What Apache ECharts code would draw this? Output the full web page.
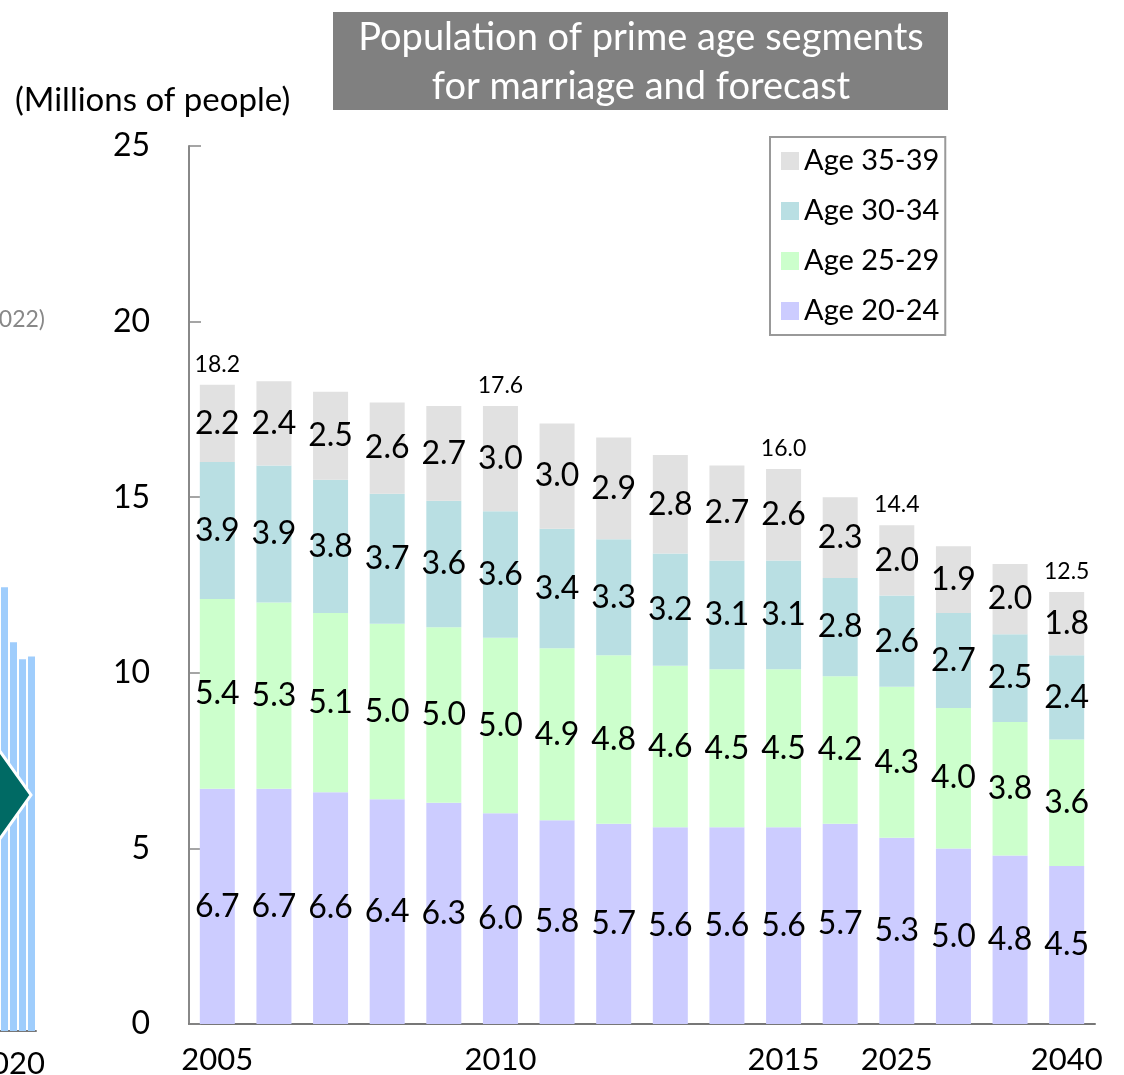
<!DOCTYPE html>
<html>
<head>
<meta charset="utf-8">
<script src="https://cdn.jsdelivr.net/npm/echarts@6/dist/echarts.min.js"></script>
<style>
html,body{margin:0;padding:0;background:#fff;}
#chart{width:1124px;height:1075px;}
</style>
</head>
<body>
<div id="chart"></div>
<script>
// ---- data ----
const categories = ['2005','2006','2007','2008','2009','2010','2011','2012','2013','2014','2015','2020','2025','2030','2035','2040'];
const shownYears = ['2005','2010','2015','2025','2040'];
const age20_24 = [6.7,6.7,6.6,6.4,6.3,6.0,5.8,5.7,5.6,5.6,5.6,5.7,5.3,5.0,4.8,4.5];
const age25_29 = [5.4,5.3,5.1,5.0,5.0,5.0,4.9,4.8,4.6,4.5,4.5,4.2,4.3,4.0,3.8,3.6];
const age30_34 = [3.9,3.9,3.8,3.7,3.6,3.6,3.4,3.3,3.2,3.1,3.1,2.8,2.6,2.7,2.5,2.4];
const age35_39 = [2.2,2.4,2.5,2.6,2.7,3.0,3.0,2.9,2.8,2.7,2.6,2.3,2.0,1.9,2.0,1.8];
const totalLabels = ['18.2','','','','','17.6','','','','','16.0','','14.4','','','12.5'];
const seriesNames = ['Age 20-24','Age 25-29','Age 30-34','Age 35-39'];
const legendOrder = ['Age 35-39','Age 30-34','Age 25-29','Age 20-24'];
const yTicks = {min:0, max:25, interval:5};
// cropped fragment of the neighbouring chart (left edge)
const fragmentCats = ['a','b','c','d'];
const fragmentValues = [49.3,43.2,41.3,41.6];

const colors = {'Age 20-24':'#ccccff','Age 25-29':'#ccffcc','Age 30-34':'#b9dfe3','Age 35-39':'#e1e1e1'};
const FONT = 'Lato';
const chart = echarts.init(document.getElementById('chart'), null, {renderer:'canvas'});

const values = [age20_24, age25_29, age30_34, age35_39];
const stackSeries = seriesNames.map((n,i)=>({
  name:n, type:'bar', stack:'pop', stackStrategy:'all', xAxisIndex:0, yAxisIndex:0,
  barWidth:35, data:values[i],
  itemStyle:{color:colors[n]},
  label:{show:true, position:'inside', color:'#000', fontFamily:FONT, fontSize:32,
    formatter:p=>p.value.toFixed(1)},
  emphasis:{disabled:true}
}));

const option = {
  animation:false,
  backgroundColor:'#fff',
  textStyle:{fontFamily:FONT},
  grid:[
    {left:189, right:29, top:146, bottom:50, containLabel:false},
    {left:-8, width:44, top:131, bottom:44, containLabel:false}
  ],
  legend:{
    data:legendOrder, orient:'vertical', left:770, top:137,
    padding:[9,6,9,11], itemGap:20, itemWidth:18, itemHeight:18, icon:'rect',
    borderColor:'#999', borderWidth:2, backgroundColor:'#fff',
    textStyle:{fontFamily:FONT, fontSize:29, lineHeight:30, color:'#000'},
    selectedMode:false
  },
  xAxis:[
    {type:'category', gridIndex:0, data:categories,
     axisLine:{show:true, lineStyle:{color:'#777', width:2}},
     axisTick:{show:false},
     axisLabel:{interval:(i,v)=>shownYears.includes(v), color:'#000', fontFamily:FONT, fontSize:31, margin:20,
       formatter:v=> v==='2025' ? '{up|'+v+'}' : v,
       rich:{up:{fontFamily:FONT, fontSize:31, color:'#000', padding:[0,0,6,0]}}}},
    {type:'category', gridIndex:1, data:fragmentCats,
     axisLine:{show:true, lineStyle:{color:'#777', width:2}},
     axisTick:{show:false}, axisLabel:{show:false}}
  ],
  yAxis:[
    {type:'value', gridIndex:0, min:yTicks.min, max:yTicks.max, interval:yTicks.interval,
     axisLine:{show:true, lineStyle:{color:'#888', width:2}},
     axisTick:{show:true, inside:true, length:12, lineStyle:{color:'#888', width:1.5}},
     splitLine:{show:false},
     axisLabel:{color:'#000', fontFamily:FONT, fontSize:32, margin:39}},
    {type:'value', gridIndex:1, min:0, max:100, show:false, splitLine:{show:false}}
  ],
  series:[
    ...stackSeries,
    {name:'total', type:'bar', stack:'pop', stackStrategy:'all', xAxisIndex:0, yAxisIndex:0,
     barWidth:35, data:categories.map(()=>0),
     itemStyle:{color:'rgba(0,0,0,0)'},
     label:{show:true, position:'top', distance:9, color:'#000', fontFamily:FONT, fontSize:23,
       formatter:p=>totalLabels[p.dataIndex] || ''},
     emphasis:{disabled:true}},
    {name:'fragment', type:'bar', xAxisIndex:1, yAxisIndex:1, barWidth:7,
     data:fragmentValues, itemStyle:{color:'#9fcdfc'}, emphasis:{disabled:true}}
  ],
  graphic:[
    {type:'polygon', shape:{points:[[-40,695],[31,795],[-40,895]]},
     style:{fill:'#006a64', stroke:'#fff', lineWidth:3}, z:10},
    {type:'text', x:45, y:320, style:{text:'2022)', font:'23px Lato', fill:'#888', textAlign:'right', textVerticalAlign:'middle'}, z:10},
    {type:'text', x:45, y:1064, style:{text:'2020', font:'31px Lato', fill:'#000', textAlign:'right', textVerticalAlign:'middle'}, z:10},
    {type:'rect', shape:{x:333, y:12, width:615, height:98}, style:{fill:'#808080'}, z:10},
    {type:'text', x:641, y:62, style:{text:'Population of prime age segments\nfor marriage and forecast',
      font:'38px Lato', fill:'#fff', textAlign:'center', textVerticalAlign:'middle', lineHeight:49}, z:11},
    {type:'text', x:15, y:100, style:{text:'(Millions of people)', font:'33px Lato', fill:'#000', textVerticalAlign:'middle'}, z:10}
  ]
};
chart.setOption(option);
</script>
</body>
</html>
